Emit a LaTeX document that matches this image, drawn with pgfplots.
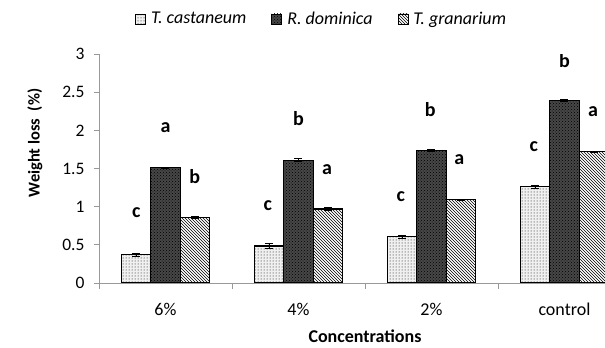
\documentclass[border=0pt]{standalone}
\usepackage{fontspec}
\setmainfont{Carlito}
\usepackage{pgfplots}
\pgfplotsset{compat=1.18}
\usetikzlibrary{patterns}
\newcommand{\fs}[1]{\fontsize{#1}{#1}\selectfont}
\begin{document}
\begin{tikzpicture}[x=1pt,y=1pt]
\begin{axis}[
  at={(99pt,65pt)}, anchor=south west,
  scale only axis, width=506pt, height=229pt,
  xmin=-0.5, xmax=3.305, ymin=0, ymax=3,
  axis x line*=bottom, axis y line*=left,
  axis line style={black!40, line width=0.8pt},
  ybar=0pt, bar width=0.222,
  ytick={0,0.5,1,1.5,2,2.5,3},
  xtick={0,1,2,3}, xticklabels={6\%,4\%,2\%,control},
  minor xtick={-0.5,0.5,1.5,2.5},
  major x tick style={draw=none},
  minor x tick style={black!40, line width=0.8pt},
  y tick style={black!40, line width=0.8pt},
  tick align=outside, major tick length=5pt, minor tick length=6pt,
  /pgf/number format/assume math mode=true,
  yticklabel style={font=\fs{17.5}, xshift=-6pt},
  xticklabel style={font=\fs{18}, text height=12pt, text depth=3pt, yshift=-12pt},
  legend style={at={(0.44,1.153)}, anchor=center, draw=none, fill=none,
    font=\itshape\fs{18}, legend columns=3,
    /tikz/every odd column/.append style={column sep=3pt},
    /tikz/every even column/.append style={column sep=23pt}},
  legend image code/.code={\draw[#1, line width=0.8pt] (0pt,-5pt) rectangle (10pt,5pt);},
  error bars/y dir=both, error bars/y explicit,
  error bars/error bar style={black, line width=0.8pt},
  error bars/error mark options={rotate=90, mark size=4pt, black, line width=0.8pt},
]
\addplot[draw=black, line width=1.2pt, fill=black!6, postaction={pattern=dots, pattern color=black}]
  coordinates {(0,0.37) +- (0,0.02) (1,0.485) +- (0,0.03) (2,0.61) +- (0,0.02) (3,1.26) +- (0,0.02)};
\addplot[draw=black, line width=1.2pt, fill=black!72, postaction={pattern=crosshatch dots, pattern color=black}]
  coordinates {(0,1.51) +- (0,0.01) (1,1.61) +- (0,0.02) (2,1.74) +- (0,0.01) (3,2.39) +- (0,0.01)};
\addplot[draw=black, line width=1.2pt, fill=white, postaction={pattern=north west lines, pattern color=black}]
  coordinates {(0,0.86) +- (0,0.01) (1,0.97) +- (0,0.02) (2,1.09) +- (0,0.01) (3,1.72) +- (0,0.01)};
\legend{T. castaneum, R. dominica, T. granarium}
\begin{scope}[every node/.style={font=\bfseries\fs{20}}]
\node at (axis cs:-0.22,0.92) {c};
\node at (axis cs:0,2.04) {a};
\node at (axis cs:0.22,1.39) {b};
\node at (axis cs:0.77,1.01) {c};
\node at (axis cs:1,2.15) {b};
\node at (axis cs:1.215,1.49) {a};
\node at (axis cs:1.77,1.13) {c};
\node at (axis cs:1.99,2.27) {b};
\node at (axis cs:2.21,1.61) {a};
\node at (axis cs:2.77,1.78) {c};
\node at (axis cs:3,2.92) {b};
\node at (axis cs:3.215,2.25) {a};
\end{scope}
\end{axis}
\node[rotate=90, font=\bfseries\fs{16.5}] at (35pt,205pt) {Weight loss\ \ (\%)};
\node[font=\bfseries\fs{18}] at (365pt,12pt) {Concentrations};
\pgfresetboundingbox
\useasboundingbox (0,0) rectangle (605pt,348pt);
\end{tikzpicture}
\end{document}
